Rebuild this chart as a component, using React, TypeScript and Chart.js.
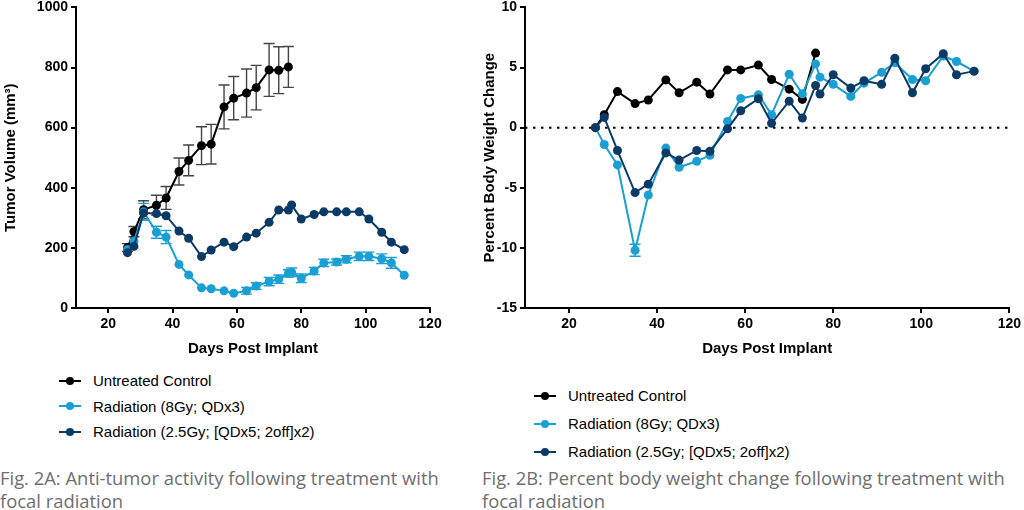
import React, { useEffect, useRef } from 'react';
import { Chart, registerables } from 'chart.js';

Chart.register(...registerables);

// ---------- Data ----------
const days = [26, 28, 31, 35, 38, 42, 45, 49, 52, 56, 59, 63, 66, 70, 73, 76, 77, 80, 84, 87, 91, 94, 98, 101, 105, 108, 112];
const controlDays = [26, 28, 31, 35, 38, 42, 45, 49, 52, 56, 59, 63, 66, 70, 73, 76];

const seriesNames = ['Untreated Control', 'Radiation (8Gy; QDx3)', 'Radiation (2.5Gy; [QDx5; 2off]x2)'];
const seriesColors = ['#000000', '#1a9fd2', '#0b3a66'];
const errorColors = ['#444444', '#1a9fd2', '#0b3a66'];

// Fig. 2A tumor volume (mm3)
const controlVolume = [201, 254, 327, 342, 366, 454, 491, 540, 545, 669, 698, 715, 733, 792, 791, 802];
const controlVolumeErr = [13, 17, 30, 33, 38, 45, 51, 63, 66, 73, 72, 80, 74, 88, 78, 68];
const rad8Volume = [195, 222, 320, 252, 236, 145, 110, 67, 64, 57, 49, 57, 73, 88, 96, 115, 119, 99, 123, 150, 153, 162, 172, 172, 164, 150, 109];
const rad8VolumeErr = [5, 8, 28, 20, 22, 5, 5, 5, 5, 5, 5, 11, 11, 14, 14, 12, 14, 14, 12, 12, 10, 12, 14, 14, 16, 18, 5];
const rad25Volume = [184, 205, 316, 314, 307, 256, 232, 171, 193, 219, 204, 236, 249, 285, 326, 326, 343, 296, 311, 320, 320, 320, 320, 296, 252, 219, 194];
const rad25VolumeErr = [4, 4, 5, 4, 4, 4, 4, 4, 4, 4, 4, 4, 4, 4, 4, 4, 4, 4, 4, 4, 4, 4, 4, 4, 4, 4, 4];

// Fig. 2B percent body weight change
const controlWeight = [0, 1.08, 3.0, 2.0, 2.3, 3.97, 2.9, 3.78, 2.79, 4.8, 4.8, 5.2, 4.0, 3.2, 2.35, 6.2];
const controlWeightErr = [0, 0.15, 0.15, 0.15, 0.15, 0.15, 0.15, 0.15, 0.15, 0.15, 0.15, 0.15, 0.15, 0.15, 0.15, 0.15];
const rad8Weight = [0, -1.4, -3.1, -10.2, -5.6, -1.7, -3.3, -2.8, -2.3, 0.52, 2.43, 2.73, 1.08, 4.44, 2.81, 5.3, 4.2, 3.6, 2.6, 3.7, 4.6, 5.4, 4.0, 3.9, 5.96, 5.5, 4.7];
const rad8WeightErr = [0, 0.15, 0.15, 0.5, 0.2, 0.15, 0.15, 0.15, 0.15, 0.15, 0.15, 0.15, 0.15, 0.15, 0.15, 0.15, 0.15, 0.15, 0.15, 0.15, 0.15, 0.15, 0.15, 0.15, 0.15, 0.15, 0.15];
const rad25Weight = [0, 0.85, -1.9, -5.4, -4.7, -2.1, -2.7, -1.9, -1.96, -0.1, 1.4, 2.4, 0.36, 2.2, 0.8, 3.5, 2.8, 4.4, 3.3, 3.9, 3.6, 5.77, 2.9, 4.9, 6.15, 4.4, 4.7];
const rad25WeightErr = [0, 0.15, 0.15, 0.2, 0.2, 0.15, 0.15, 0.15, 0.15, 0.15, 0.15, 0.15, 0.15, 0.15, 0.15, 0.15, 0.15, 0.15, 0.15, 0.15, 0.15, 0.15, 0.15, 0.15, 0.15, 0.15, 0.15];

const xTicks = [20, 40, 60, 80, 100, 120];
const volumeTicks = [0, 200, 400, 600, 800, 1000];
const weightTicks = [-15, -10, -5, 0, 5, 10];
const zeroLine = [0, 0];
const zeroLineDays = [10, 120];

const captionA = ['Fig. 2A: Anti-tumor activity following treatment with', 'focal radiation'];
const captionB = ['Fig. 2B: Percent body weight change following treatment with', 'focal radiation'];

// ---------- helpers ----------
const POINT_R = 4.5;
const pts = (xs: number[], ys: number[]) => xs.map((x, i) => ({ x, y: ys[i] }));

const errorBarPlugin = {
  id: 'errorBars',
  beforeDatasetsDraw(chart: any) {
    const ctx = chart.ctx;
    const yScale = chart.scales.y;
    chart.data.datasets.forEach((ds: any, di: number) => {
      if (!ds.errorBars) return;
      const meta = chart.getDatasetMeta(di);
      ctx.save();
      ctx.strokeStyle = ds.errorColor;
      ctx.lineWidth = 1.4;
      meta.data.forEach((el: any, i: number) => {
        const err = ds.errorBars[i];
        if (!err) return;
        const v = ds.data[i].y;
        const x = el.x;
        const yt = yScale.getPixelForValue(v + err);
        const yb = yScale.getPixelForValue(v - err);
        // like Prism: bars well inside the symbol are not drawn
        if (Math.abs(yb - yt) / 2 < 2.5) return;
        ctx.beginPath();
        ctx.moveTo(x, yt);
        ctx.lineTo(x, yb);
        ctx.moveTo(x - 5.5, yt);
        ctx.lineTo(x + 5.5, yt);
        ctx.moveTo(x - 5.5, yb);
        ctx.lineTo(x + 5.5, yb);
        ctx.stroke();
      });
      ctx.restore();
    });
  },
};

const FAMILY = "'Liberation Sans', Arial, Helvetica, sans-serif";
const tickFont = { family: FAMILY, size: 14, weight: 'bold' as const };
const titleFont = { family: FAMILY, size: 15, weight: 'bold' as const };

function makeDataset(i: number, xs: number[], ys: number[], errs: number[], order: number) {
  return {
    label: seriesNames[i],
    data: pts(xs, ys),
    borderColor: seriesColors[i],
    backgroundColor: seriesColors[i],
    pointBackgroundColor: seriesColors[i],
    pointBorderColor: seriesColors[i],
    pointRadius: POINT_R,
    pointBorderWidth: 0,
    borderWidth: 2,
    tension: 0,
    order,
    errorBars: errs,
    errorColor: errorColors[i],
  } as any;
}

function buildOptions(cfg: {
  yMin: number; yMax: number; yTicks: number[]; yTitle: string; padLeft: number; padRight: number; yWidth: number;
}) {
  return {
    animation: false,
    responsive: false,
    maintainAspectRatio: false,
    events: [],
    layout: { padding: { left: cfg.padLeft, top: 10, right: cfg.padRight, bottom: 0 } },
    plugins: { legend: { display: false }, tooltip: { enabled: false } },
    scales: {
      x: {
        type: 'linear',
        min: 10,
        max: 120,
        afterBuildTicks: (s: any) => { s.ticks = xTicks.map((v) => ({ value: v })); },
        afterFit: (s: any) => { s.height = 52; },
        border: { display: true, color: '#000', width: 2 },
        grid: { drawOnChartArea: false, drawTicks: true, tickLength: 5, color: '#000', lineWidth: 2 },
        ticks: { font: tickFont, color: '#000', padding: 3, maxRotation: 0, callback: (v: any) => String(v) },
        title: { display: true, text: 'Days Post Implant', font: titleFont, color: '#000', padding: { top: 0, bottom: 2 } },
      },
      y: {
        type: 'linear',
        min: cfg.yMin,
        max: cfg.yMax,
        afterBuildTicks: (s: any) => { s.ticks = cfg.yTicks.map((v) => ({ value: v })); },
        afterFit: (s: any) => { s.width = cfg.yWidth; },
        border: { display: true, color: '#000', width: 2 },
        grid: { drawOnChartArea: false, drawTicks: true, tickLength: 5, color: '#000', lineWidth: 2 },
        ticks: { font: tickFont, color: '#000', padding: 3, callback: (v: any) => String(v) },
        title: { display: true, text: cfg.yTitle, font: titleFont, color: '#000', padding: { top: 2, bottom: 0 } },
      },
    },
  } as any;
}

function VolumeChart() {
  const ref = useRef<HTMLCanvasElement>(null);
  useEffect(() => {
    const chart = new Chart(ref.current!, {
      type: 'line',
      data: {
        datasets: [
          makeDataset(0, controlDays, controlVolume, controlVolumeErr, 3),
          makeDataset(1, days, rad8Volume, rad8VolumeErr, 2),
          makeDataset(2, days, rad25Volume, rad25VolumeErr, 1),
        ],
      },
      options: buildOptions({ yMin: 0, yMax: 1000, yTicks: volumeTicks, yTitle: 'Tumor Volume (mm³)', padLeft: 0, padRight: 40, yWidth: 76 }),
      plugins: [errorBarPlugin],
    });
    return () => chart.destroy();
  }, []);
  return <canvas ref={ref} width={470} height={364} style={{ position: 'absolute', left: 0, top: -4, width: 470, height: 364 }} />;
}

function WeightChart() {
  const ref = useRef<HTMLCanvasElement>(null);
  useEffect(() => {
    const chart = new Chart(ref.current!, {
      type: 'line',
      data: {
        datasets: [
          makeDataset(0, controlDays, controlWeight, controlWeightErr, 3),
          makeDataset(1, days, rad8Weight, rad8WeightErr, 2),
          makeDataset(2, days, rad25Weight, rad25WeightErr, 1),
          {
            label: 'zero',
            data: pts(zeroLineDays, zeroLine),
            borderColor: '#000',
            borderWidth: 2,
            borderDash: [2.5, 5.5],
            pointRadius: 0,
            order: 4,
          } as any,
        ],
      },
      options: buildOptions({ yMin: -15, yMax: 10, yTicks: weightTicks, yTitle: 'Percent Body Weight Change', padLeft: 19, padRight: 14, yWidth: 46 }),
      plugins: [errorBarPlugin],
    });
    return () => chart.destroy();
  }, []);
  return <canvas ref={ref} width={564} height={364} style={{ position: 'absolute', left: 460, top: -4, width: 564, height: 364 }} />;
}

function Legend({ left, top, rowHeight, textLeft }: { left: number; top: number; rowHeight: number; textLeft: number }) {
  return (
    <div style={{ position: 'absolute', left, top }}>
      {seriesNames.map((name, i) => (
        <div key={name} style={{ position: 'relative', height: rowHeight, width: 400 }}>
          <div style={{ position: 'absolute', left: 0, top: rowHeight / 2 - 1, width: 22, height: 2, background: seriesColors[i] }} />
          <div style={{ position: 'absolute', left: 7, top: rowHeight / 2 - 4, width: 8, height: 8, borderRadius: 4, background: seriesColors[i] }} />
          <div
            style={{
              position: 'absolute',
              left: textLeft,
              top: 0,
              height: rowHeight,
              lineHeight: rowHeight + 'px',
              fontFamily: FAMILY,
              fontSize: 15,
              color: '#000',
              whiteSpace: 'nowrap',
            }}
          >
            {name}
          </div>
        </div>
      ))}
    </div>
  );
}

function Caption({ left, lines }: { left: number; lines: string[] }) {
  return (
    <div
      style={{
        position: 'absolute',
        left,
        top: 466,
        fontFamily: "'Open Sans', sans-serif",
        fontSize: 18.4,
        lineHeight: '23px',
        color: '#6d6e71',
        whiteSpace: 'nowrap',
      }}
    >
      {lines.map((l) => (
        <div key={l}>{l}</div>
      ))}
    </div>
  );
}

export default function App() {
  return (
    <div style={{ position: 'fixed', left: 0, top: 0, width: 1024, height: 510, background: '#fff', overflow: 'hidden' }}>
      <VolumeChart />
      <WeightChart />
      <Legend left={59} top={368} rowHeight={25.5} textLeft={34} />
      <Legend left={534} top={382} rowHeight={28} textLeft={34} />
      <Caption left={0} lines={captionA} />
      <Caption left={482} lines={captionB} />
    </div>
  );
}
